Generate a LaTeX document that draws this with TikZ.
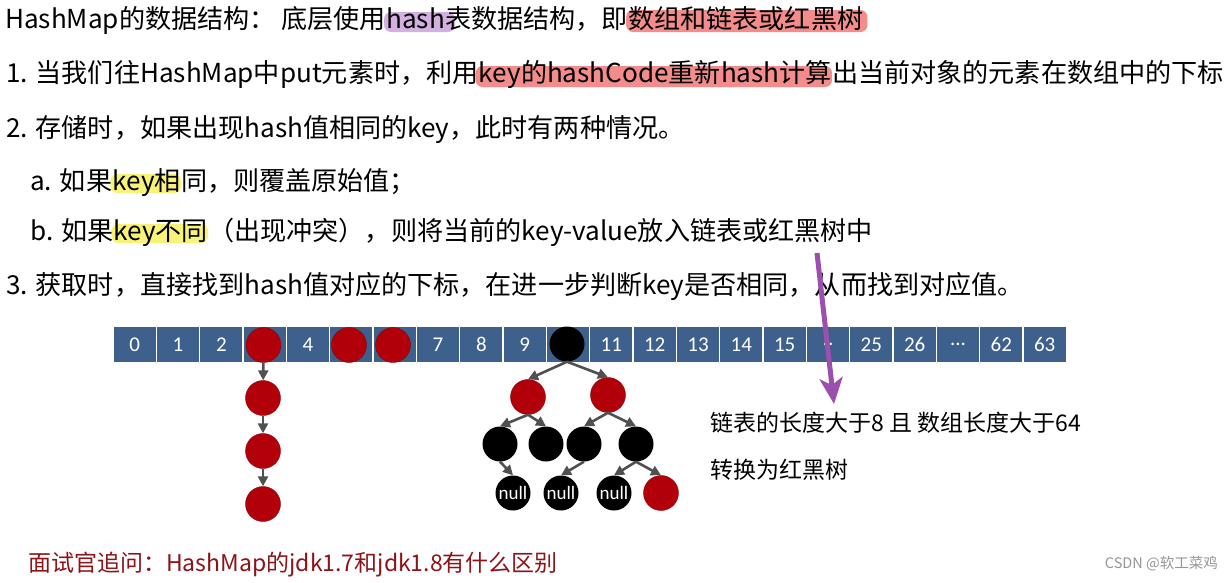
\documentclass[tikz,border=0pt]{standalone}
\usepackage{fontspec}
\setmainfont{Noto Sans CJK SC}
\newfontfamily\cellfont{Carlito}
\usetikzlibrary{arrows.meta,backgrounds,calc}
\definecolor{cellblue}{RGB}{62,96,140}
\definecolor{nodered}{RGB}{178,0,10}
\definecolor{arrgray}{RGB}{80,80,80}
\definecolor{hlpurple}{RGB}{212,176,225}
\definecolor{hlpink}{RGB}{244,140,140}
\definecolor{hlyellow}{RGB}{248,243,120}
\definecolor{arrowpurple}{RGB}{155,80,175}
\definecolor{asktext}{RGB}{140,20,25}
\definecolor{marktext}{RGB}{150,150,150}
\tikzset{
  txt/.style={anchor=base west, inner sep=0pt, font=\fontsize{26.1}{30}\selectfont},
  note/.style={anchor=base west, inner sep=0pt, font=\fontsize{23}{26}\selectfont},
  cell/.style={draw=white, line width=1.2pt, fill=cellblue, minimum width=43.33pt,
    minimum height=37pt, inner sep=0pt, text=white, font=\cellfont\fontsize{21}{24}\selectfont},
  rnode/.style={circle, fill=nodered, draw=nodered!80!black, line width=0.4pt, minimum size=35pt, inner sep=0pt},
  bnode/.style={circle, fill=black, minimum size=35pt, inner sep=0pt, text=white,
    font=\cellfont\fontsize{19}{22}\selectfont},
  arr/.style={draw=arrgray, line width=2.6pt, -{Triangle[length=10pt,width=10pt]}},
  parrow/.style={draw=arrowpurple, line width=5pt, -{Stealth[length=26pt,width=23pt,inset=7pt]}},
  hl/.style={rounded corners=7pt}
}
\begin{document}
\begin{tikzpicture}[x=1pt,y=-1pt]
\useasboundingbox (0,0) rectangle (1230,582);
% ---- text lines ----
\node[txt] (l1a) at (5,28) {HashMap的数据结构： 底层使用};
\node[txt] (l1b) at (l1a.base east) {hash};
\node[txt] (l1c) at (l1b.base east) {表数据结构，即};
\node[txt] (l1d) at (l1c.base east) {数组和链表或红黑树};

\node[txt] (l2a) at (6,82) {1. 当我们往HashMap中put元素时，利用};
\node[txt] (l2b) at (l2a.base east) {key的hashCode重新hash计算};
\node[txt] (l2c) at (l2b.base east) {出当前对象的元素在数组中的下标};

\node[txt] (l3) at (6,137) {2. 存储时，如果出现hash值相同的key，此时有两种情况。};

\node[txt] (l4a) at (30,190) {a. 如果};
\node[txt] (l4b) at (l4a.base east) {key相};
\node[txt] (l4c) at (l4b.base east) {同，则覆盖原始值；};

\node[txt] (l5a) at (30,240) {b. 如果};
\node[txt] (l5b) at (l5a.base east) {key不同};
\node[txt] (l5c) at (l5b.base east) {（出现冲突），则将当前的key-value放入链表或红黑树中};

\node[txt] (l6) at (6,294) {3. 获取时，直接找到hash值对应的下标，在进一步判断key是否相同，从而找到对应值。};

% ---- highlights ----
\begin{scope}[on background layer]
\fill[white] (0,0) rectangle (1230,582);
\fill[hlpurple, hl] ($(l1b.base west)+(-2,4)$) rectangle ($(l1b.base east)+(10,-16)$);
\fill[hlpink, hl] ($(l1d.base west)+(-2,4)$) rectangle ($(l1d.base east)+(4,-18)$);
\fill[hlpink, hl] ($(l2b.base west)+(-3,5)$) rectangle ($(l2b.base east)+(0,-16)$);
\fill[hlyellow, hl] ($(l4b.base west)+(-2,3)$) rectangle ($(l4b.base east)+(0,-16)$);
\fill[hlyellow, hl] ($(l5b.base west)+(-2,3)$) rectangle ($(l5b.base east)+(0,-16)$);
\end{scope}

% ---- array ----
\node[cell] (c0) at (134.67,344.5) {0};
\node[cell] (c1) at (178.00,344.5) {1};
\node[cell] (c2) at (221.33,344.5) {2};
\node[cell] (c3) at (264.67,344.5) {};
\node[cell] (c4) at (308.00,344.5) {4};
\node[cell] (c5) at (351.33,344.5) {};
\node[cell] (c6) at (394.67,344.5) {};
\node[cell] (c7) at (438.00,344.5) {7};
\node[cell] (c8) at (481.33,344.5) {8};
\node[cell] (c9) at (524.67,344.5) {9};
\node[cell] (c10) at (568.00,344.5) {};
\node[cell] (c11) at (611.33,344.5) {11};
\node[cell] (c12) at (654.67,344.5) {12};
\node[cell] (c13) at (698.00,344.5) {13};
\node[cell] (c14) at (741.33,344.5) {14};
\node[cell] (c15) at (784.67,344.5) {15};
\node[cell] (c16) at (828.00,344.5) {..};
\node[cell] (c17) at (871.33,344.5) {25};
\node[cell] (c18) at (914.67,344.5) {26};
\node[cell] (c19) at (958.00,344.5) {...};
\node[cell] (c20) at (1001.33,344.5) {62};
\node[cell] (c21) at (1044.67,344.5) {63};

% ---- circles in array ----
\node[rnode] (r3) at (263.5,345) {};
\node[rnode] (r5) at (349,345) {};
\node[rnode] (r6) at (393,345) {};
\node[bnode] (root) at (567,344) {};

% ---- linked list ----
\node[rnode] (k1) at (263,398) {};
\node[rnode] (k2) at (263,451) {};
\node[rnode] (k3) at (263,504) {};
\draw[arr] (r3) -- (k1);
\draw[arr] (k1) -- (k2);
\draw[arr] (k2) -- (k3);

% ---- red-black tree ----
\node[rnode] (t1) at (528,397) {};
\node[rnode] (t2) at (608,395) {};
\node[bnode] (t3) at (500,444) {};
\node[bnode] (t4) at (546,444) {};
\node[bnode] (t5) at (584,444) {};
\node[bnode] (t6) at (636,444) {};
\node[bnode] (n1) at (513,493) {null};
\node[bnode] (n2) at (561,493) {null};
\node[bnode] (n3) at (614,493) {null};
\node[rnode] (t7) at (661,493) {};
\draw[arr] (root.south) -- (t1.north);
\draw[arr] (root.south) -- (t2.north);
\draw[arr] (t1.south) -- (t3.north);
\draw[arr] (t1.south) -- (t4.north);
\draw[arr] (t2.south) -- (t5.north);
\draw[arr] (t2.south) -- (t6.north);
\draw[arr] (t3.south) -- (n1.north);
\draw[arr] (t5.south) -- (n2.north);
\draw[arr] (t6.south) -- (n3.north);
\draw[arr] (t6.south) -- (t7.north);

% ---- purple arrow and note ----
\coordinate (pa) at (817,253);
\coordinate (pb) at (834,404);
\draw[parrow] (pa) -- (pb);
\node[note] (m1) at (710,431) {链表的长度大于8 且 数组长度大于64};
\node[note] (m2) at (710,478) {转换为红黑树};

% ---- footer ----
\node[anchor=base west, inner sep=0pt, text=asktext, font=\fontsize{23}{26}\selectfont] (ask) at (28,571) {面试官追问：HashMap的jdk1.7和jdk1.8有什么区别};
\node[anchor=base east, inner sep=0pt, text=marktext, font=\fontsize{14.5}{16}\selectfont] (mark) at (1218,568) {CSDN @软工菜鸡};
\end{tikzpicture}
\end{document}
